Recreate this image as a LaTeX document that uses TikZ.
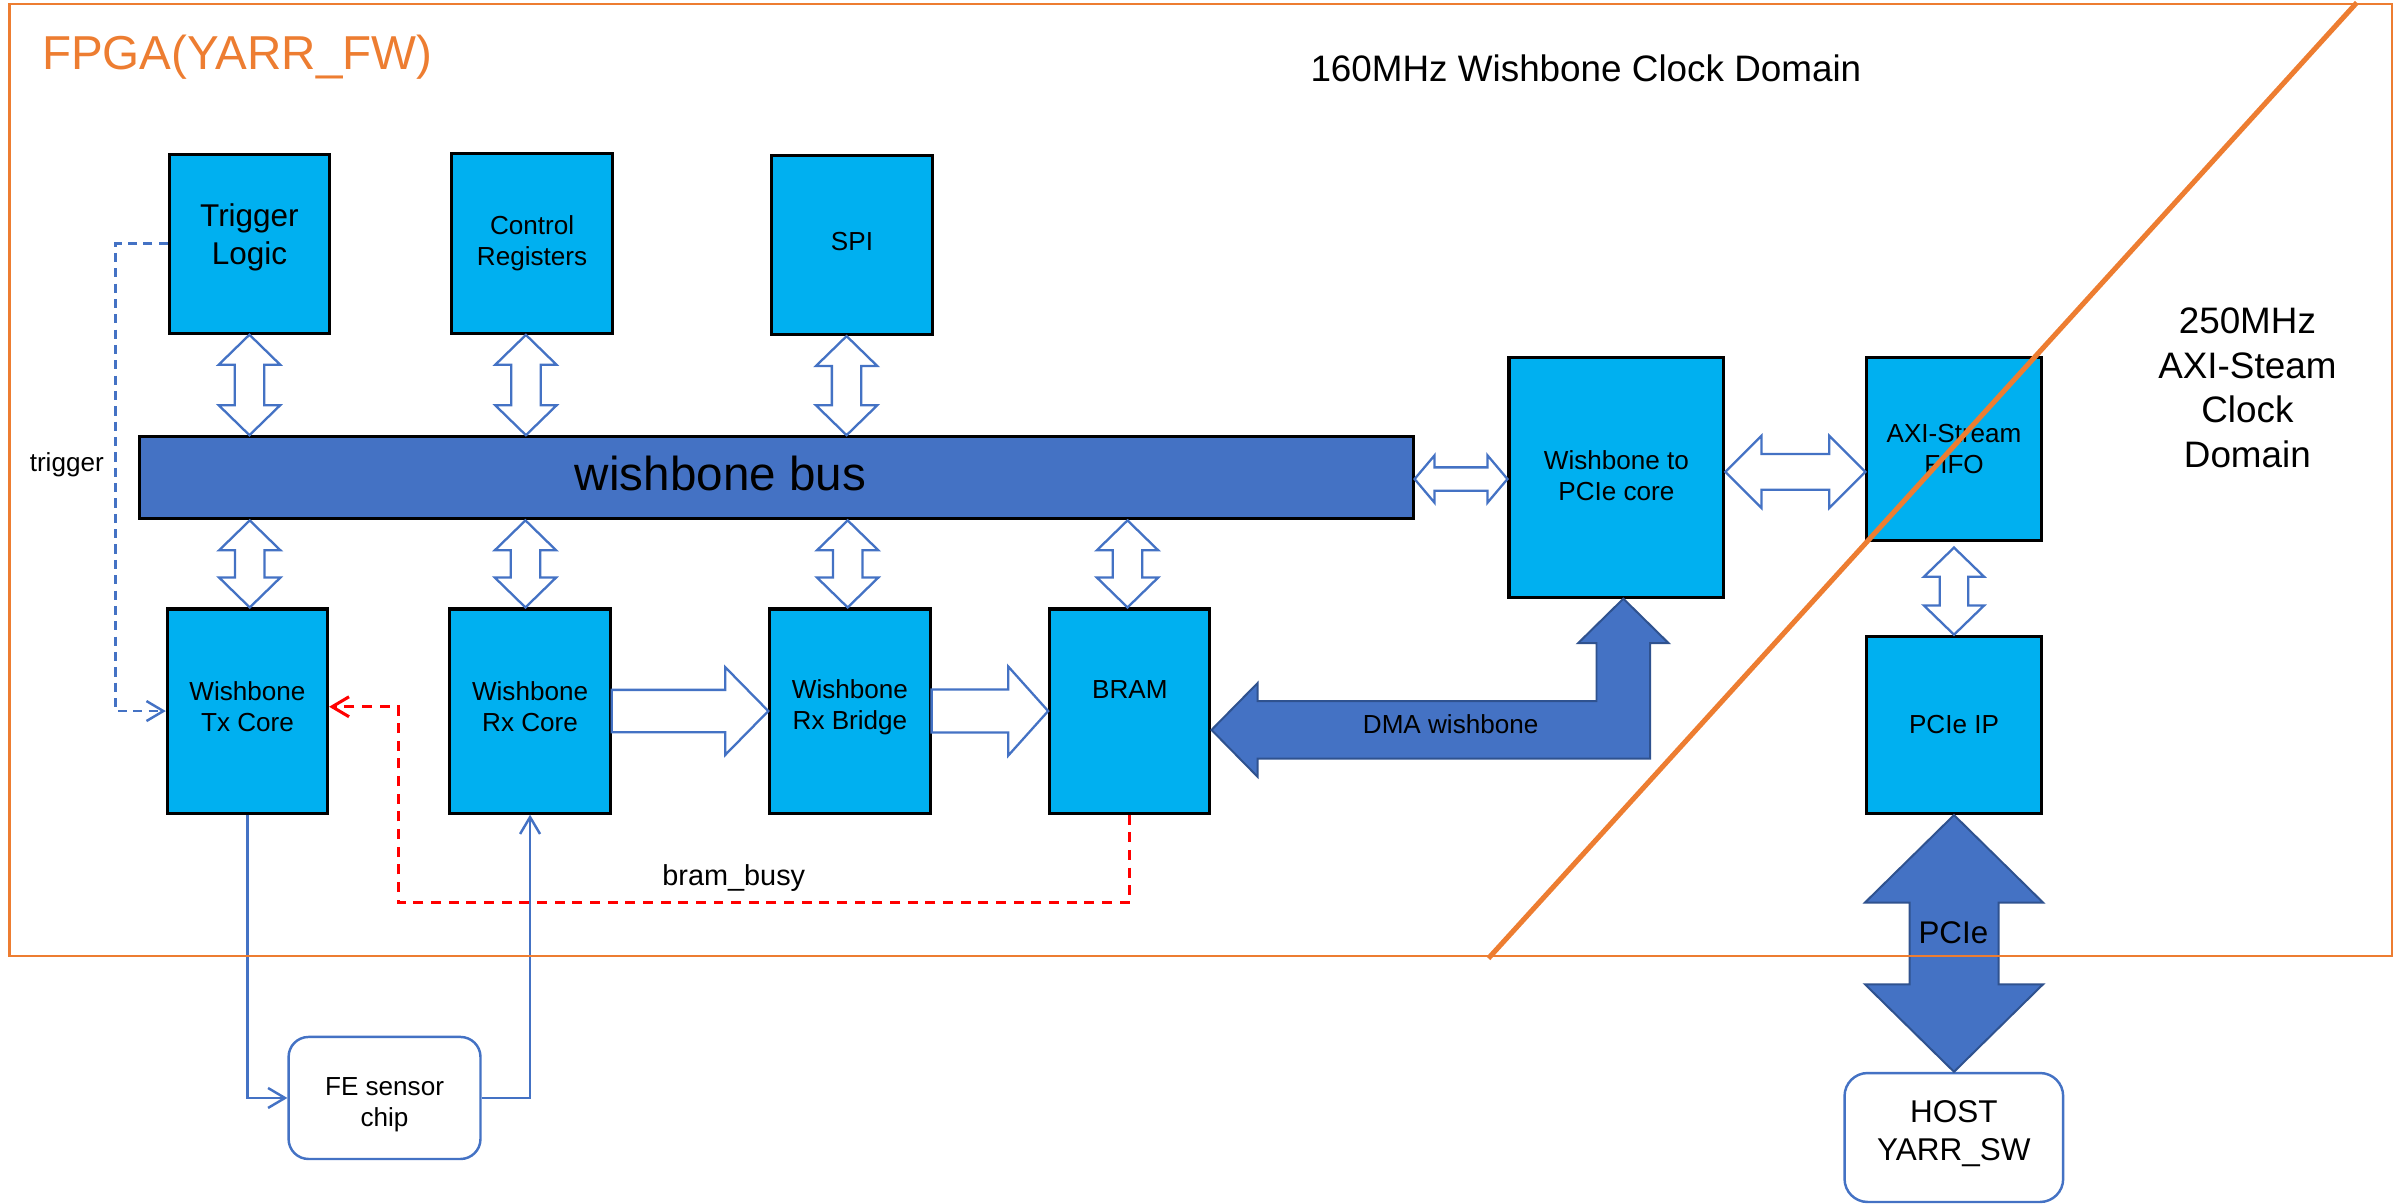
\documentclass[tikz,border=0pt]{standalone}
\usepackage{fontspec}
\setmainfont{Liberation Sans}
\usetikzlibrary{calc,arrows.meta}

\definecolor{blockcyan}{HTML}{00B0F0}
\definecolor{busblue}{HTML}{4472C4}
\definecolor{arrowedge}{HTML}{2F528F}
\definecolor{fpgaorange}{HTML}{ED7D31}
\definecolor{busyred}{HTML}{FF0000}

\tikzset{
  block/.style={draw=black, line width=2pt, fill=blockcyan, minimum width=104.4pt,
    inner sep=0pt, align=center, font=\fontsize{17}{20.2}\selectfont},
  busbar/.style={draw=black, line width=2pt, fill=busblue, inner sep=0pt},
  roundbox/.style={draw=busblue, line width=1.6pt, fill=white, rounded corners=13pt,
    inner sep=0pt, align=center, font=\fontsize{17}{20.2}\selectfont},
  hollow/.style={draw=busblue, line width=1.5pt, fill=white, line join=miter},
  solidarrow/.style={draw=arrowedge, line width=1.3pt, fill=busblue, line join=miter},
  link/.style={draw=busblue, line width=1.6pt, -{Straight Barb[length=11pt,width=13pt]}},
  trigdash/.style={link, dash pattern=on 6pt off 4pt},
  busydash/.style={draw=busyred, line width=2pt, dash pattern=on 6.5pt off 5pt,
    -{Straight Barb[length=11pt,width=13pt]}},
  caption/.style={inner sep=0pt, anchor=base},
}

% invisible struts that move a label up (depth) or down (height) inside its box
\newcommand\padbelow[1]{\rule[-#1]{0pt}{0pt}}
\newcommand\padabove[1]{\rule{0pt}{#1}}

% vertical double block arrow: x point, top point, bottom point, head half width, shaft half width, head length
\newcommand\dblarrowv[7][hollow]{%
  \draw[#1] let \p1=(#2), \p2=(#3), \p3=(#4) in
    (\x1,\y2) -- (\x1+#5,\y2-#7) -- (\x1+#6,\y2-#7) -- (\x1+#6,\y3+#7) -- (\x1+#5,\y3+#7)
    -- (\x1,\y3) -- (\x1-#5,\y3+#7) -- (\x1-#6,\y3+#7) -- (\x1-#6,\y2-#7) -- (\x1-#5,\y2-#7) -- cycle;}
% horizontal double block arrow: y point, left point, right point, head half height, shaft half height, head length
\newcommand\dblarrowh[7][hollow]{%
  \draw[#1] let \p1=(#2), \p2=(#3), \p3=(#4) in
    (\x2,\y1) -- (\x2+#7,\y1+#5) -- (\x2+#7,\y1+#6) -- (\x3-#7,\y1+#6) -- (\x3-#7,\y1+#5)
    -- (\x3,\y1) -- (\x3-#7,\y1-#5) -- (\x3-#7,\y1-#6) -- (\x2+#7,\y1-#6) -- (\x2+#7,\y1-#5) -- cycle;}
% single block arrow pointing right
\newcommand\sglarrowh[7][hollow]{%
  \draw[#1] let \p1=(#2), \p2=(#3), \p3=(#4) in
    (\x2,\y1+#6) -- (\x3-#7,\y1+#6) -- (\x3-#7,\y1+#5) -- (\x3,\y1)
    -- (\x3-#7,\y1-#5) -- (\x3-#7,\y1-#6) -- (\x2,\y1-#6) -- cycle;}
\newcommand\busarrow[3]{\dblarrowv{#1}{#2}{#3}{20}{9.6}{19.5}}

\begin{document}
\begin{tikzpicture}[x=1pt, y=-1pt]
\useasboundingbox (0,0) rectangle (1568,784);

% ---- blocks on the wishbone side ----
\node[block, minimum height=116.7pt, font=\fontsize{20.5}{24.8}\selectfont] (trig) at (162.5,158.7) {Trigger\\Logic\padbelow{11.9pt}};
\node[block, minimum height=116.9pt] (ctrl) at (346.6,158.7) {Control\\Registers};
\node[block, minimum height=116.9pt] (spi) at (555,159.5) {SPI\padbelow{5pt}};

\node[busbar, minimum width=829.5pt, minimum height=53.5pt] (bus) at (505.75,311.25) {};
\node[caption, font=\fontsize{31}{37}\selectfont] (busl) at (469.3,319.7) {wishbone bus};

\node[block, minimum height=133pt] (tx) at (161.2,463.2) {Wishbone\\Tx Core\padbelow{6.2pt}};
\node[block, minimum height=133pt] (rx) at (345.3,463.2) {Wishbone\\Rx Core\padbelow{6.2pt}};
\node[block, minimum height=133pt] (bridge) at (553.7,463.2) {Wishbone\\Rx Bridge\padbelow{8.2pt}};
\node[block, minimum height=133pt] (bram) at (736,463.2) {BRAM\\\padbelow{8.4pt}};

\node[block, minimum width=140pt, minimum height=156pt] (w2p) at (1053,311) {Wishbone to\\PCIe core\padbelow{2.8pt}};
\node[block, minimum width=113.5pt, minimum height=119.4pt] (fifo) at (1272.9,292.5) {AXI-Stream\\FIFO};
\node[block, minimum width=113.5pt, minimum height=115.5pt] (pcieip) at (1272.9,472.2) {PCIe IP};

% ---- outside the FPGA ----
\node[roundbox, minimum width=125pt, minimum height=79.5pt] (fe) at (250.5,715.25) {\padabove{21pt}FE sensor\\chip};
\node[roundbox, rounded corners=15pt, minimum width=142.4pt, minimum height=84pt,
  font=\fontsize{20.5}{25}\selectfont] (host) at (1272.8,741) {HOST\\YARR\_SW\padbelow{9pt}};

% ---- bus attachments ----
\busarrow{trig.south}{trig.south}{bus.north}
\busarrow{$(ctrl.south)+(-4,0)$}{ctrl.south}{bus.north}
\busarrow{$(spi.south)+(-3.5,0)$}{spi.south}{bus.north}
\busarrow{$(tx.north)+(1.5,0)$}{bus.south}{tx.north}
\busarrow{$(rx.north)+(-3,0)$}{bus.south}{rx.north}
\busarrow{$(bridge.north)+(-1.5,0)$}{bus.south}{bridge.north}
\busarrow{$(bram.north)+(-1.5,0)$}{bus.south}{bram.north}

\dblarrowh{$(bus.east)+(0,0.8)$}{bus.east}{w2p.west}{15.4}{7.6}{13}
\dblarrowh{$(w2p.east)+(0,-3.6)$}{w2p.east}{fifo.west}{23.5}{11.6}{23.5}
\dblarrowv{fifo.south}{$(fifo.south)+(0,3.5)$}{pcieip.north}{19.6}{9.3}{19}

% ---- receive data path ----
\sglarrowh{rx.east}{rx.east}{bridge.west}{28.5}{13.8}{28}
\sglarrowh{bridge.east}{bridge.east}{bram.west}{29}{14}{26}

% ---- DMA wishbone ----
\coordinate (dmatip) at ($(bram.east)+(0,12.3)$);
\coordinate (dmatop) at ($(w2p.south)+(4.5,0)$);
\draw[solidarrow] let \p1=(dmatip), \p2=(dmatop) in
  (\x1,\y1) -- (\x1+30,\y1+30.5) -- (\x1+30,\y1+18.7) -- (\x2-17.5,\y1+18.7)
  -- (\x2-17.5,\y2-29) -- (\x2-29.5,\y2-29) -- (\x2,\y2) -- (\x2+29.5,\y2-29)
  -- (\x2+17.5,\y2-29) -- (\x2+17.5,\y1-18.7) -- (\x1+30,\y1-18.7) -- (\x1+30,\y1-30.5) -- cycle;
\node[caption, font=\fontsize{17}{20}\selectfont] (dmalabel) at (945,477.7) {DMA wishbone};

% ---- PCIe link to the host ----
\dblarrowv[solidarrow]{pcieip.south}{pcieip.south}{host.north}{58}{29}{57}
\node[caption, font=\fontsize{20.4}{24}\selectfont] (pcielabel) at (1272.5,614.8) {PCIe};

% ---- signal lines ----
\coordinate (trigbend) at ($(trig.west)+(-34,0)$);
\draw[trigdash] (trig.west) -- (trigbend) |- (tx.west);
\node[caption, font=\fontsize{17}{20}\selectfont] (triglabel) at (43.5,307.3) {trigger};

\coordinate (busyturn) at ($(bram.south)+(0,57.3)$);
\coordinate (busyend) at ($(tx.east)+(0,-2.8)$);
\coordinate (busyup) at ($(busyend)+(45.3,0)$);
\draw[busydash] (bram.south) -- (busyturn) -| (busyup) -- (busyend);
\node[caption, font=\fontsize{18.8}{22}\selectfont] (busylabel) at (478,576.6) {bram\_busy};

\draw[link] (tx.south) |- (fe.west);
\draw[link] (fe.east) -| (rx.south);

% ---- FPGA boundary and clock domains ----
\draw[fpgaorange, line width=1.7pt] (6,2.6) rectangle (1558.2,622.8);
\node[inner sep=0pt, anchor=base west, text=fpgaorange, font=\fontsize{31}{37}\selectfont] (fpgatitle) at (27.2,45) {FPGA(YARR\_FW)};
\node[inner sep=0pt, anchor=base east, font=\fontsize{24}{29}\selectfont] (wbdomain) at (1212.7,53) {160MHz Wishbone Clock Domain};
\node[inner sep=0pt, align=center, font=\fontsize{24}{29}\selectfont] (axidomain) at (1464,252.5) {250MHz\\AXI-Steam\\Clock\\Domain};
\draw[fpgaorange, line width=3.3pt] (969.6,624.3) -- (1535.3,1.7);
\end{tikzpicture}
\end{document}
